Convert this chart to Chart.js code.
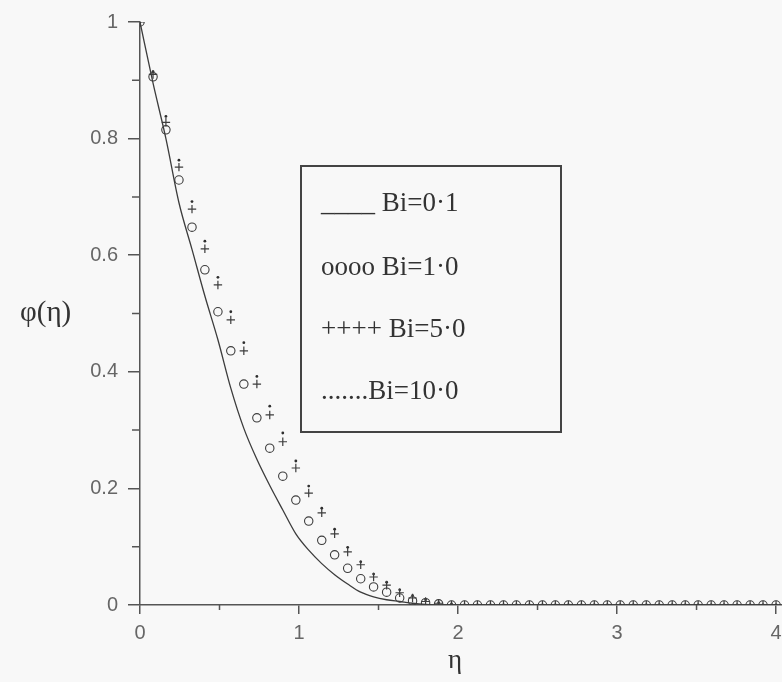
<!DOCTYPE html>
<html>
<head>
<meta charset="utf-8">
<script src="https://cdn.jsdelivr.net/npm/chart.js@4/dist/chart.umd.min.js"></script>
<style>
  html, body { margin: 0; padding: 0; background: #f8f8f8; overflow: hidden; }
  #wrap { position: relative; width: 782px; height: 682px; overflow: hidden; }
  #plot { position: absolute; left: 0; top: 0; }
  .ttl { position: absolute; font-family: "Liberation Serif", serif; color: #333; white-space: nowrap; }
  #legend { position: absolute; left: 300px; top: 165px; width: 262px; height: 268px;
            border: 2px solid #444; box-sizing: border-box; }
  .row { position: absolute; left: 19px; font: 27px/27px "Liberation Serif", serif; color: #333; white-space: nowrap; }
</style>
</head>
<body>
<div id="wrap">
  <canvas id="plot" width="800" height="682"></canvas>
  <div class="ttl" style="left:20px; top:297px; font-size:29px; line-height:29px;">φ(η)</div>
  <div class="ttl" style="left:448px; top:646px; font-size:27px; line-height:27px;">η</div>
  <div id="legend">
    <div class="row" style="top:22px;">____ Bi=0·1</div>
    <div class="row" style="top:86px;">oooo Bi=1·0</div>
    <div class="row" style="top:148px;">++++ Bi=5·0</div>
    <div class="row" style="top:210px;">.......Bi=10·0</div>
  </div>
</div>
<script>
// similarity variable, common to all four curves
const eta = [0, 0.082, 0.163, 0.245, 0.327, 0.408, 0.49, 0.571, 0.653, 0.735,
             0.816, 0.898, 0.98, 1.061, 1.143, 1.224, 1.306, 1.388, 1.469, 1.551,
             1.633, 1.714, 1.796, 1.878, 1.959, 2.041, 2.122, 2.204, 2.286, 2.367,
             2.449, 2.531, 2.612, 2.694, 2.776, 2.857, 2.939, 3.02, 3.102, 3.184,
             3.265, 3.347, 3.429, 3.51, 3.592, 3.673, 3.755, 3.837, 3.918, 4.0];

// phi(eta) for each Biot number
const phiBi01 = [1, 0.895, 0.8, 0.69, 0.61, 0.53, 0.455, 0.372, 0.303, 0.25,
                 0.205, 0.163, 0.122, 0.094, 0.071, 0.052, 0.036, 0.022, 0.014, 0.009,
                 0.006, 0.003, 0.001, 0, 0, 0, 0, 0, 0, 0,
                 0, 0, 0, 0, 0, 0, 0, 0, 0, 0,
                 0, 0, 0, 0, 0, 0, 0, 0, 0, 0];
const phiBi1 = [1, 0.906, 0.815, 0.729, 0.648, 0.575, 0.503, 0.436, 0.379, 0.321,
                0.269, 0.221, 0.18, 0.144, 0.111, 0.086, 0.063, 0.045, 0.031, 0.022,
                0.012, 0.007, 0.004, 0.002, 0, 0, 0, 0, 0, 0,
                0, 0, 0, 0, 0, 0, 0, 0, 0, 0,
                0, 0, 0, 0, 0, 0, 0, 0, 0, 0];
const phiBi5 = [1, 0.91, 0.828, 0.751, 0.679, 0.611, 0.549, 0.489, 0.436, 0.379,
                0.326, 0.28, 0.235, 0.192, 0.158, 0.122, 0.091, 0.069, 0.048, 0.034,
                0.021, 0.012, 0.006, 0.003, 0, 0, 0, 0, 0, 0,
                0, 0, 0, 0, 0, 0, 0, 0, 0, 0,
                0, 0, 0, 0, 0, 0, 0, 0, 0, 0];
const phiBi10 = [1, 0.915, 0.838, 0.763, 0.692, 0.624, 0.562, 0.503, 0.45, 0.392,
                 0.341, 0.295, 0.247, 0.204, 0.166, 0.13, 0.099, 0.074, 0.053, 0.039,
                 0.026, 0.016, 0.009, 0.004, 0.002, 0, 0, 0, 0, 0,
                 0, 0, 0, 0, 0, 0, 0, 0, 0, 0,
                 0, 0, 0, 0, 0, 0, 0, 0, 0, 0];

const xTicks = [0, 1, 2, 3, 4];
const xTickLabels = ['0', '1', '2', '3', '4'];
const xMinor = [0.5, 1.5, 2.5, 3.5];
const yTicks = [0, 0.2, 0.4, 0.6, 0.8, 1];
const yTickLabels = ['0', '0.2', '0.4', '0.6', '0.8', '1'];
const yMinor = [0.1, 0.3, 0.5, 0.7, 0.9];

const axisColor = '#555';
const inkColor = '#3c3c3c';
const tickFont = { family: '"Liberation Sans", sans-serif', size: 20 };

function pts(ys) {
    return eta.map((x, i) => ({ x: x, y: ys[i] }));
}

// short ticks between the labelled ones
const minorTicks = {
    id: 'minorTicks',
    afterDraw(chart) {
        const { ctx, scales: { x, y } } = chart;
        ctx.save();
        ctx.strokeStyle = axisColor;
        ctx.lineWidth = 1.5;
        ctx.beginPath();
        yMinor.forEach(v => {
            const py = y.getPixelForValue(v);
            ctx.moveTo(x.left - 8, py);
            ctx.lineTo(x.left, py);
        });
        xMinor.forEach(v => {
            const px = x.getPixelForValue(v);
            ctx.moveTo(px, y.bottom);
            ctx.lineTo(px, y.bottom + 5);
        });
        ctx.stroke();
        ctx.restore();
    }
};

new Chart(document.getElementById('plot'), {
    type: 'line',
    data: {
        datasets: [
            {
                label: 'Bi=0·1', data: pts(phiBi01),
                borderColor: inkColor, borderWidth: 1.3,
                pointRadius: 0, cubicInterpolationMode: 'monotone'
            },
            {
                label: 'Bi=1·0', data: pts(phiBi1), showLine: false,
                pointStyle: 'circle', pointRadius: 4.2, pointBorderWidth: 1.1,
                pointBorderColor: inkColor, pointBackgroundColor: 'rgba(0,0,0,0)'
            },
            {
                label: 'Bi=5·0', data: pts(phiBi5), showLine: false,
                pointStyle: 'cross', pointRadius: 4.2, pointBorderWidth: 1.2,
                pointBorderColor: inkColor
            },
            {
                label: 'Bi=10·0', data: pts(phiBi10), showLine: false,
                pointStyle: 'circle', pointRadius: 1.4, pointBorderWidth: 0,
                pointBackgroundColor: '#2e2e2e'
            }
        ]
    },
    options: {
        responsive: false,
        animation: false,
        events: [],
        layout: { padding: { top: 22, right: 16, bottom: 0, left: 0 } },
        plugins: { legend: { display: false }, tooltip: { enabled: false } },
        scales: {
            x: {
                type: 'linear', min: 0, max: 4.05,
                afterBuildTicks: s => { s.ticks = xTicks.map(v => ({ value: v })); },
                afterFit: s => { s.height = 77; },
                ticks: {
                    callback: (v, i) => xTickLabels[i],
                    font: tickFont, color: '#666', padding: 7,
                    maxRotation: 0, autoSkip: false
                },
                grid: { drawOnChartArea: false, drawTicks: true, tickLength: 9, color: axisColor, lineWidth: 1.5 },
                border: { color: axisColor, width: 1.5 }
            },
            y: {
                type: 'linear', min: 0, max: 1,
                afterBuildTicks: s => { s.ticks = yTicks.map(v => ({ value: v })); },
                afterFit: s => { s.width = 140; },
                ticks: {
                    callback: (v, i) => yTickLabels[i],
                    font: tickFont, color: '#666', padding: 10, autoSkip: false
                },
                grid: { drawOnChartArea: false, drawTicks: true, tickLength: 12, color: axisColor, lineWidth: 1.5 },
                border: { color: axisColor, width: 1.5 }
            }
        }
    },
    plugins: [minorTicks]
});
</script>
</body>
</html>
